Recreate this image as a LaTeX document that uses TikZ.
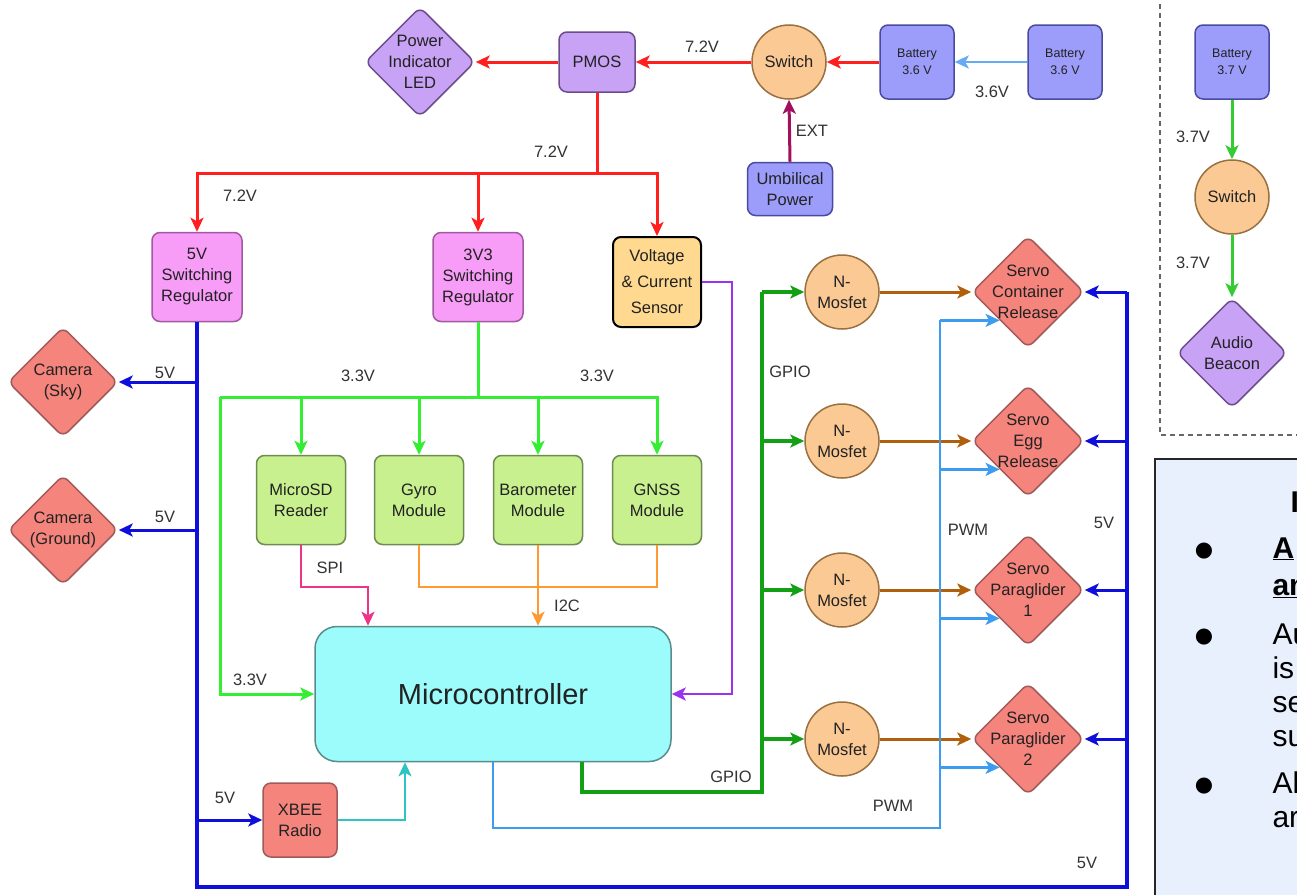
\documentclass[tikz,border=0pt]{standalone}
\usepackage{fontspec}
\setmainfont{Liberation Sans}
\newfontfamily\djv{DejaVu Sans}
\usetikzlibrary{shapes.geometric,arrows.meta,calc}
\definecolor{cRed}{HTML}{FF1F1F}
\definecolor{cLBat}{HTML}{66AAF5}
\definecolor{cExt}{HTML}{A0105E}
\definecolor{cBlue}{HTML}{0F0FDC}
\definecolor{cGreen}{HTML}{33EE33}
\definecolor{cDGreen}{HTML}{14A014}
\definecolor{cBrown}{HTML}{B0600C}
\definecolor{cPwm}{HTML}{3D9BF0}
\definecolor{cSpi}{HTML}{F0338A}
\definecolor{cI2c}{HTML}{FF9A33}
\definecolor{cPurp}{HTML}{9A33F0}
\definecolor{cCyan}{HTML}{2EC4C4}
\definecolor{cBatG}{HTML}{33CC33}
\definecolor{fPurp}{HTML}{C8A2F5}
\definecolor{dPurp}{HTML}{6C4C8C}
\definecolor{fBat}{HTML}{9C9CFA}
\definecolor{dBat}{HTML}{4A4AA0}
\definecolor{fOra}{HTML}{FBC994}
\definecolor{dOra}{HTML}{9A7040}
\definecolor{fPink}{HTML}{F79CF7}
\definecolor{dPink}{HTML}{A05AA0}
\definecolor{fYel}{HTML}{FFD98F}
\definecolor{fGrn}{HTML}{C8F08F}
\definecolor{dGrn}{HTML}{6E8C50}
\definecolor{fCyan}{HTML}{9CFCFC}
\definecolor{dCyan}{HTML}{5A8C8C}
\definecolor{fSal}{HTML}{F4847C}
\definecolor{dSal}{HTML}{A05A5A}
\definecolor{fNote}{HTML}{E8F0FE}
\definecolor{tDark}{HTML}{222222}
\definecolor{tLab}{HTML}{333333}
\newcommand{\fN}{\fontsize{16.5}{21}\selectfont}
\newcommand{\fS}{\fontsize{12.5}{17}\selectfont}
\newcommand{\fM}{\fontsize{29}{34}\selectfont}
\newcommand{\fT}{\fontsize{30}{34}\selectfont}
\begin{document}
\begin{tikzpicture}[x=1pt,y=-1pt,
  arr/.style={-{Stealth[length=14pt,width=13pt,inset=3.5pt]}},
  basebox/.style={draw, rounded corners=8pt, line width=1.5pt, align=center, font=\fN, text=tDark, inner sep=0pt},
  pbox/.style={basebox, fill=fPurp, draw=dPurp},
  bbox/.style={basebox, fill=fBat, draw=dBat, minimum width=74pt, minimum height=74pt, font=\fS},
  pkbox/.style={basebox, fill=fPink, draw=dPink, minimum width=90pt, minimum height=89pt},
  ybox/.style={basebox, fill=fYel, draw=black, line width=2pt, minimum width=88pt, minimum height=90pt},
  gbox/.style={basebox, fill=fGrn, draw=dGrn, minimum width=89pt, minimum height=89pt},
  sbox/.style={basebox, fill=fSal, draw=dSal},
  circ/.style={circle, draw=dOra, fill=fOra, line width=1.5pt, minimum size=74pt, inner sep=0pt, align=center, font=\fN, text=tDark},
  dia/.style={shape=diamond, draw, line width=1.5pt, minimum width=110pt, minimum height=110pt, inner sep=0pt, rounded corners=7pt},
  pdia/.style={dia, fill=fPurp, draw=dPurp},
  sdia/.style={dia, fill=fSal, draw=dSal},
  dtext/.style={label={[align=center, font=\fN, text=tDark]center:#1}},
  lab/.style={font=\fN, text=tLab},
  redw/.style={draw=cRed, line width=3pt},
  blue5/.style={draw=cBlue, line width=4pt},
  blue5a/.style={draw=cBlue, line width=3pt},
  g33/.style={draw=cGreen, line width=3pt},
  gpio/.style={draw=cDGreen, line width=3.5pt},
  pwm/.style={draw=cPwm, line width=2.6pt},
  brw/.style={draw=cBrown, line width=3pt},
  thin/.style={line width=2.6pt},
  note/.style={font=\fT, text=black, anchor=base west}
]
\path[use as bounding box] (0,0) rectangle (1297,894);
\begin{scope}
\clip (0,0) rectangle (1297,894);
\fill[white] (0,0) rectangle (1297,894);

% ---------- top power chain ----------
\node[pdia, dtext={Power\\Indicator\\LED}] (led) at (420,62) {};
\node[pbox, minimum width=76pt, minimum height=60pt] (pmos) at (597,62) {PMOS};
\node[circ] (sw1) at (789,62) {Switch};
\node[bbox] (bat1) at (917,62) {Battery\\3.6 V};
\node[bbox] (bat2) at (1065,62) {Battery\\3.6 V};
\node[bbox, minimum width=85pt, minimum height=53pt, font=\fN] (umb) at (790,189) {Umbilical\\Power};

% ---------- beacon chain ----------
\node[bbox] (bat3) at (1232,62) {Battery\\3.7 V};
\node[circ] (sw2) at (1232,197) {Switch};
\node[pdia, dtext={Audio\\Beacon}] (beacon) at (1232,353) {};

% ---------- regulators ----------
\node[pkbox] (reg5) at (197,277) {5V\\Switching\\Regulator};
\node[pkbox] (reg33) at (478,277) {3V3\\Switching\\Regulator};
\node[ybox] (vcs) at (657,282) {Voltage\\[5pt]\& Current\\[5pt]Sensor};

% ---------- cameras ----------
\node[sdia, dtext={Camera\\(Sky)}] (camsky) at (63,382) {};
\node[sdia, dtext={Camera\\(Ground)}] (camgnd) at (63,530) {};

% ---------- modules ----------
\node[gbox] (sd) at (301,500) {MicroSD\\Reader};
\node[gbox] (gyro) at (419,500) {Gyro\\Module};
\node[gbox] (baro) at (538,500) {Barometer\\Module};
\node[gbox] (gnss) at (657,500) {GNSS\\Module};

\node[basebox, fill=fCyan, draw=dCyan, rounded corners=22pt, minimum width=356pt, minimum height=135pt, font=\fM] (mc) at (493,694) {Microcontroller};
\node[sbox, minimum width=74pt, minimum height=74pt] (xbee) at (300,820) {XBEE\\Radio};

% ---------- mosfets and servos ----------
\node[circ] (nm1) at (842,292) {N-\\Mosfet};
\node[circ] (nm2) at (842,441) {N-\\Mosfet};
\node[circ] (nm3) at (842,590) {N-\\Mosfet};
\node[circ] (nm4) at (842,739) {N-\\Mosfet};
\node[sdia, minimum width=112pt, minimum height=112pt, dtext={Servo\\Container\\Release}] (sv1) at (1028,292) {};
\node[sdia, minimum width=112pt, minimum height=112pt, dtext={Servo\\Egg\\Release}] (sv2) at (1028,441) {};
\node[sdia, minimum width=112pt, minimum height=112pt, dtext={Servo\\Paraglider\\1}] (sv3) at (1028,590) {};
\node[sdia, minimum width=112pt, minimum height=112pt, dtext={Servo\\Paraglider\\2}] (sv4) at (1028,739) {};

% ---------- top connectors ----------
\draw[redw, arr] (pmos.west) -- (led.east);
\draw[redw, arr] (sw1.west) -- (pmos.east);
\draw[redw, arr] (bat1.west) -- (sw1.east);
\draw[draw=cLBat, thin, arr] (bat2.west) -- (bat1.east);
\draw[draw=cExt, line width=3pt, arr] (umb.north) -- (sw1.south);
\coordinate (rj) at (597,173);
\draw[redw] (pmos.south) -- (rj);
\draw[redw, arr] (rj) -| (reg5.north);
\draw[redw, arr] (rj) -| (vcs.north);
\draw[redw, arr] (reg33.north |- rj) -- (reg33.north);

\draw[draw=cBatG, line width=3pt, arr] (bat3.south) -- (sw2.north);
\draw[draw=cBatG, line width=3pt, arr] (sw2.south) -- (beacon.north);

% ---------- 5V bus ----------
\coordinate (b5a) at (197,887);
\coordinate (b5b) at (1127,887);
\coordinate (b5c) at (1127,292);
\draw[blue5] (reg5.south) -- (b5a) -- (b5b) -- (b5c);
\draw[blue5a, arr] (reg5.south |- camsky.east) -- (camsky.east);
\draw[blue5a, arr] (reg5.south |- camgnd.east) -- (camgnd.east);
\draw[blue5a, arr] (reg5.south |- xbee.west) -- (xbee.west);
\draw[blue5a, arr] (b5c |- sv1.east) -- (sv1.east);
\draw[blue5a, arr] (b5c |- sv2.east) -- (sv2.east);
\draw[blue5a, arr] (b5c |- sv3.east) -- (sv3.east);
\draw[blue5a, arr] (b5c |- sv4.east) -- (sv4.east);

% ---------- 3.3V bus ----------
\coordinate (g1) at (478,397);
\coordinate (g33l) at (220,397);
\draw[g33] (reg33.south) -- (g1);
\draw[g33, arr] (g33l) -| (gnss.north);
\draw[g33, arr] (sd.north |- g1) -- (sd.north);
\draw[g33, arr] (gyro.north |- g1) -- (gyro.north);
\draw[g33, arr] (baro.north |- g1) -- (baro.north);
\draw[g33, arr] (g33l) |- (mc.west);

% ---------- buses to MCU ----------
\coordinate (spiE) at (368,587);
\draw[draw=cSpi, thin, arr] (sd.south) |- (spiE) -- (spiE |- mc.north);
\coordinate (i2cB) at (419,587);
\draw[draw=cI2c, thin] (gyro.south) -- (i2cB) -| (gnss.south);
\draw[draw=cI2c, thin, arr] (baro.south) -- (baro.south |- mc.north);
\coordinate (pv) at (732,282);
\draw[draw=cPurp, thin, arr] (vcs.east) -- (pv) |- (mc.east);
\coordinate (xc) at (405,820);
\draw[draw=cCyan, thin, arr] (xbee.east) -- (xc) -- (xc |- mc.south);

% ---------- GPIO ----------
\coordinate (gp0) at (582,792);
\coordinate (gp1) at (762,792);
\draw[gpio] (mc.south -| gp0) -- (gp0) -- (gp1) -- (gp1 |- nm1.west);
\draw[gpio, arr] (gp1 |- nm1.west) -- (nm1.west);
\draw[gpio, arr] (gp1 |- nm2.west) -- (nm2.west);
\draw[gpio, arr] (gp1 |- nm3.west) -- (nm3.west);
\draw[gpio, arr] (gp1 |- nm4.west) -- (nm4.west);

\draw[brw, arr] (nm1.east) -- (sv1.west);
\draw[brw, arr] (nm2.east) -- (sv2.west);
\draw[brw, arr] (nm3.east) -- (sv3.west);
\draw[brw, arr] (nm4.east) -- (sv4.west);

% ---------- PWM ----------
\coordinate (pw0) at (493,828);
\coordinate (pw1) at (940,828);
\draw[pwm] (mc.south -| pw0) -- (pw0) -- (pw1) -- (pw1 |- sv1.south west);
\draw[pwm, arr] (pw1 |- sv1.south west) -- (sv1.south west);
\draw[pwm, arr] (pw1 |- sv2.south west) -- (sv2.south west);
\draw[pwm, arr] (pw1 |- sv3.south west) -- (sv3.south west);
\draw[pwm, arr] (pw1 |- sv4.south west) -- (sv4.south west);

% ---------- labels ----------
\node[lab] (l72a) at (702,47) {7.2V};
\node[lab] (l72b) at (551,152) {7.2V};
\node[lab] (l72c) at (240,196) {7.2V};
\node[lab] (l36) at (992,92) {3.6V};
\node[lab] (lext) at (812,131) {EXT};
\node[lab] (l37a) at (1193,137) {3.7V};
\node[lab] (l37b) at (1193,263) {3.7V};
\node[lab] (l5a) at (165,373) {5V};
\node[lab] (l5b) at (165,517) {5V};
\node[lab] (l5c) at (225,798) {5V};
\node[lab] (l33a) at (358,376) {3.3V};
\node[lab] (l33b) at (597,376) {3.3V};
\node[lab] (l33c) at (250,680) {3.3V};
\node[lab] (lspi) at (330,568) {SPI};
\node[lab] (li2c) at (567,606) {I2C};
\node[lab] (lgpa) at (790,372) {GPIO};
\node[lab] (lgpb) at (731,777) {GPIO};
\node[lab] (lpwa) at (968,530) {PWM};
\node[lab] (lpwb) at (893,806) {PWM};
\node[lab] (l5d) at (1104,523) {5V};
\node[lab] (l5e) at (1087,863) {5V};

% ---------- dashed frame ----------
\draw[draw=gray!80!black, line width=1.5pt, dash pattern=on 5pt off 4pt] (1160,-5) -- (1160,435) -- (1310,435);

% ---------- note box ----------
\draw[fill=fNote, draw=black!85, line width=1.3pt] (1155,459) rectangle (1320,910);
\node[note, font=\fT\bfseries] (nh) at (1287,512) {I};
\node[font=\djv\fontsize{21}{21}\selectfont, anchor=base] (bu1) at (1204,556) {●};
\node[note, font=\fT\bfseries] (n1) at (1269,558) {\underline{A}};
\node[note, font=\fT\bfseries] (n2) at (1269,595) {\underline{an}};
\node[font=\djv\fontsize{21}{21}\selectfont, anchor=base] (bu2) at (1204,642) {●};
\node[note] (n3) at (1269,644) {Au};
\node[note] (n4) at (1269,678) {is};
\node[note] (n5) at (1269,712) {se};
\node[note] (n6) at (1269,746) {su};
\node[font=\djv\fontsize{21}{21}\selectfont, anchor=base] (bu3) at (1204,791) {●};
\node[note] (n7) at (1269,793) {Al};
\node[note] (n8) at (1269,827) {ar};
\end{scope}
\end{tikzpicture}
\end{document}
